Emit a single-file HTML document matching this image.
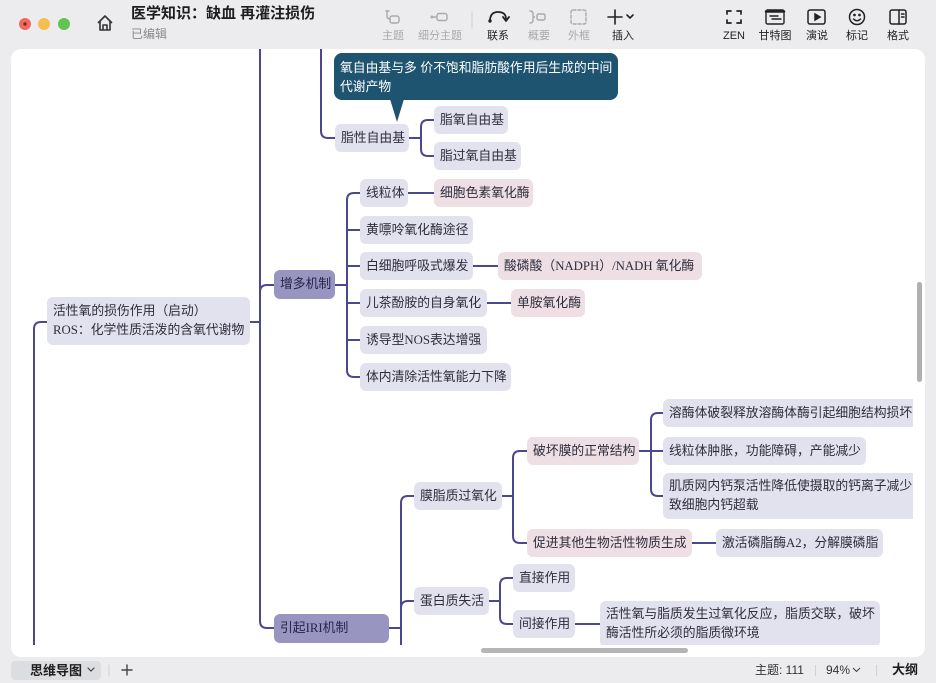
<!DOCTYPE html>
<html><head><meta charset="utf-8">
<style>
*{margin:0;padding:0;box-sizing:border-box}
body{width:936px;height:683px;background:#ececee;position:relative;overflow:hidden;font-family:"Liberation Sans","Noto Sans CJK SC",sans-serif;color:#222}
.canvas{position:absolute;left:11px;top:49px;width:914px;height:608px;background:#fff;border-radius:10px}
.clip{position:absolute;left:11px;top:49px;width:902px;height:596px;overflow:hidden}
.inner{position:absolute;left:-11px;top:-49px;width:936px;height:683px}
.n{position:absolute;border-radius:6px;background:#e2e1ee;color:#2e2d3d;font-family:"Liberation Serif","Noto Sans CJK SC",sans-serif;font-size:12.8px;line-height:28px;height:28px;padding-left:6px;white-space:nowrap;overflow:hidden}
.p{background:#eddfe3}
.m{background:#9896c1;color:#26244a;height:29px;line-height:29px}
.two{line-height:19px;padding-top:4px;height:46px}
.lbl{position:absolute;top:30px;width:60px;text-align:center;font-size:11px;line-height:12px;color:#222}
.dis{color:#a9a9ad}
.ic{position:absolute;top:8px;width:20px;height:18px}
</style></head><body>

<!-- title bar -->
<svg style="position:absolute;left:0;top:0" width="120" height="46">
<circle cx="25" cy="24" r="6" fill="#ec6a5e"/><circle cx="25" cy="24" r="1.6" fill="#8c1c14"/>
<circle cx="44" cy="24" r="6" fill="#f4bf4f"/>
<circle cx="64" cy="24" r="6" fill="#61c554"/>
<path d="M98,23 L105,16 L112,23 M100,21 V30 H110 V21 M103,30 V25 H107 V30" fill="none" stroke="#333" stroke-width="1.6" stroke-linejoin="round"/>
</svg>
<div style="position:absolute;left:131px;top:4px;font-size:15px;font-weight:bold;line-height:20px;color:#1e1e1e;white-space:nowrap">医学知识：缺血 再灌注损伤</div>
<div style="position:absolute;left:131px;top:26px;font-size:12px;line-height:16px;color:#8a8a8e">已编辑</div>

<!-- toolbar icons -->
<svg style="position:absolute;left:0;top:0" width="936" height="30" fill="none" stroke-linecap="round">
<!-- 主题 -->
<g stroke="#a9a9ad" stroke-width="1.4"><path d="M387,11 V16 Q387,19 390,19"/><rect x="390" y="16" width="9" height="7" rx="2"/><path d="M386,11 H389"/></g>
<!-- 细分主题 -->
<g stroke="#a9a9ad" stroke-width="1.4"><circle cx="432" cy="17" r="0.8"/><path d="M434,17 H436"/><rect x="437" y="13.5" width="10" height="7" rx="2"/></g>
<line x1="472" y1="12" x2="472" y2="28" stroke="#d0d0d4" stroke-width="1"/>
<!-- 联系 -->
<g stroke="#222" stroke-width="1.8"><path d="M490,21 Q490,12 498,12 Q506,12 506,19"/><path d="M503,17 L506,21 L509,17" stroke-linejoin="round"/><circle cx="490" cy="21" r="0.8" fill="#222"/></g>
<!-- 概要 -->
<g stroke="#a9a9ad" stroke-width="1.4"><path d="M530,11 Q533,11 533,14 V16 Q533,17 535,17 Q533,17 533,18 V20 Q533,23 530,23"/><rect x="537" y="14" width="8" height="6" rx="1.5"/></g>
<!-- 外框 -->
<rect x="571" y="10" width="15" height="14" rx="2" stroke="#a9a9ad" stroke-width="1.4" stroke-dasharray="3 2"/>
<!-- 插入 -->
<g stroke="#222" stroke-width="1.6"><path d="M615,10 V24 M608,17 H622"/><path d="M627,15 L630,18 L633,15"/></g>
<!-- ZEN -->
<g stroke="#222" stroke-width="1.7"><path d="M727,14 V11 H731 M737,11 H741 V14 M741,20 V23 H737 M731,23 H727 V20"/></g>
<!-- 甘特图 -->
<g stroke="#222" stroke-width="1.4"><rect x="766" y="10" width="18" height="14" rx="1.5"/><path d="M766,11.5 H784" stroke-width="2.5"/><path d="M770,16 H778 M772,19 H781"/></g>
<!-- 演说 -->
<g stroke="#222" stroke-width="1.5"><rect x="808" y="10" width="17" height="14" rx="2"/><path d="M815,14 L820,17 L815,20 Z" fill="#222"/></g>
<!-- 标记 -->
<g stroke="#222" stroke-width="1.5"><circle cx="857" cy="17" r="7.5"/><path d="M853.5,19 Q857,22.5 860.5,19"/><circle cx="854.5" cy="15" r="0.6" fill="#222"/><circle cx="859.5" cy="15" r="0.6" fill="#222"/></g>
<!-- 格式 -->
<g stroke="#222" stroke-width="1.5"><rect x="890" y="10" width="16" height="14" rx="2"/><path d="M899,10 V24 M901.5,14 H904 M901.5,17 H904"/></g>
</svg>
<div class="lbl dis" style="left:363px">主题</div>
<div class="lbl dis" style="left:410px">细分主题</div>
<div class="lbl" style="left:468px">联系</div>
<div class="lbl dis" style="left:509px">概要</div>
<div class="lbl dis" style="left:549px">外框</div>
<div class="lbl" style="left:593px">插入</div>
<div class="lbl" style="left:704px">ZEN</div>
<div class="lbl" style="left:745px">甘特图</div>
<div class="lbl" style="left:787px">演说</div>
<div class="lbl" style="left:827px">标记</div>
<div class="lbl" style="left:868px">格式</div>

<div class="canvas"></div>

<div class="clip"><div class="inner">
<svg style="position:absolute;left:0;top:0" width="936" height="683" fill="none" stroke="#4b4791" stroke-width="2" stroke-linecap="round" stroke-linejoin="round">
<path d="M47,322 H41 Q34,322 34,329 V660"/>
<path d="M250,322 H260"/>
<path d="M260,40 V621 Q260,628 267,628 H274"/>
<path d="M260,292 Q260,285 267,285 H274"/>
<path d="M321,40 V131 Q321,138 328,138 H335"/>
<path d="M409,138 H421"/>
<path d="M434,120 H428 Q421,120 421,127 V149 Q421,156 428,156 H434"/>
<path d="M335,285 H347"/>
<path d="M360,193 H354 Q347,193 347,200 V370 Q347,377 354,377 H360"/>
<path d="M347,230 H360 M347,266 H360 M347,303 H360 M347,340 H360"/>
<path d="M408,193 H434 M473,266 H498 M487,303 H511"/>
<path d="M389,628 H401"/>
<path d="M414,496 H408 Q401,496 401,503 V660"/>
<path d="M401,608 Q401,601 408,601 H414"/>
<path d="M502,496 H513"/>
<path d="M527,451 H520 Q513,451 513,458 V536 Q513,543 520,543 H527"/>
<path d="M639,451 H663"/>
<path d="M663,413 H658 Q651,413 651,420 V489 Q651,496 658,496 H663"/>
<path d="M692,543 H716"/>
<path d="M489,601 H500"/>
<path d="M513,578 H507 Q500,578 500,585 V617 Q500,624 507,624 H513"/>
<path d="M575,624 H600"/>
</svg>

<!-- tooltip -->
<div style="position:absolute;left:334px;top:53px;width:284px;height:47px;background:#1f5470;border-radius:8px;color:#fff;font-size:12.8px;line-height:19px;padding:5px 6px;font-family:'Liberation Sans','Noto Sans CJK SC',sans-serif;white-space:nowrap">氧自由基与多 价不饱和脂肪酸作用后生成的中间<br>代谢产物</div>
<svg style="position:absolute;left:0;top:0" width="936" height="683"><polygon points="390,99 404,99 397,122" fill="#1f5470"/></svg>

<div class="n two" style="left:47px;top:297px;width:203px;height:48px;padding-top:5px">活性氧的损伤作用（启动）<br>ROS：化学性质活泼的含氧代谢物</div>
<div class="n m" style="left:274px;top:270px;width:61px">增多机制</div>
<div class="n m" style="left:274px;top:614px;width:115px">引起IRI机制</div>

<div class="n" style="left:335px;top:124px;width:74px">脂性自由基</div>
<div class="n" style="left:434px;top:106px;width:74px">脂氧自由基</div>
<div class="n" style="left:434px;top:142px;width:87px">脂过氧自由基</div>

<div class="n" style="left:360px;top:179px;width:48px">线粒体</div>
<div class="n p" style="left:434px;top:179px;width:99px">细胞色素氧化酶</div>
<div class="n" style="left:360px;top:216px;width:113px">黄嘌呤氧化酶途径</div>
<div class="n" style="left:360px;top:252px;width:113px">白细胞呼吸式爆发</div>
<div class="n p" style="left:498px;top:252px;width:204px">酸磷酸（NADPH）/NADH 氧化酶</div>
<div class="n" style="left:360px;top:289px;width:127px">儿茶酚胺的自身氧化</div>
<div class="n p" style="left:511px;top:289px;width:74px">单胺氧化酶</div>
<div class="n" style="left:360px;top:326px;width:127px">诱导型NOS表达增强</div>
<div class="n" style="left:360px;top:363px;width:151px">体内清除活性氧能力下降</div>

<div class="n" style="left:414px;top:482px;width:88px">膜脂质过氧化</div>
<div class="n p" style="left:527px;top:437px;width:112px">破坏膜的正常结构</div>
<div class="n" style="left:663px;top:399px;width:262px">溶酶体破裂释放溶酶体酶引起细胞结构损坏</div>
<div class="n" style="left:663px;top:437px;width:203px">线粒体肿胀，功能障碍，产能减少</div>
<div class="n two" style="left:663px;top:473px;width:262px">肌质网内钙泵活性降低使摄取的钙离子减少<br>致细胞内钙超载</div>
<div class="n p" style="left:527px;top:529px;width:165px">促进其他生物活性物质生成</div>
<div class="n" style="left:716px;top:529px;width:167px">激活磷脂酶A2，分解膜磷脂</div>

<div class="n" style="left:414px;top:587px;width:75px">蛋白质失活</div>
<div class="n" style="left:513px;top:564px;width:62px">直接作用</div>
<div class="n" style="left:513px;top:610px;width:62px">间接作用</div>
<div class="n two" style="left:600px;top:601px;width:280px">活性氧与脂质发生过氧化反应，脂质交联，破坏<br>酶活性所必须的脂质微环境</div>
</div></div>

<!-- scrollbars -->
<div style="position:absolute;left:481px;top:648px;width:207px;height:5px;border-radius:3px;background:#b5b5b7"></div>
<div style="position:absolute;left:917px;top:282px;width:5px;height:100px;border-radius:3px;background:#b0b0b2"></div>

<!-- bottom bar -->
<div style="position:absolute;left:11px;top:661px;width:90px;height:19px;border-radius:4px;background:#dcdde0"></div>
<div style="position:absolute;left:30px;top:662px;font-size:13px;font-weight:bold;line-height:17px;color:#1e1e1e">思维导图</div>
<svg style="position:absolute;left:0;top:655px" width="140" height="28" fill="none" stroke="#444" stroke-linecap="round">
<path d="M88,13 L91,16 L94,13" stroke-width="1.2"/>
<path d="M109,10 V21" stroke="#d0d0d4" stroke-width="1"/>
<path d="M127,10 V20 M122,15 H132" stroke-width="1.4"/>
</svg>
<div style="position:absolute;left:755px;top:662px;font-size:12px;line-height:17px;color:#333;white-space:nowrap">主题: 111</div>
<div style="position:absolute;left:815px;top:665px;width:1px;height:11px;background:#d0d0d4"></div>
<div style="position:absolute;left:826px;top:662px;font-size:12px;line-height:17px;color:#333;white-space:nowrap">94%</div>
<svg style="position:absolute;left:852px;top:666px" width="10" height="8" fill="none" stroke="#444" stroke-width="1.1"><path d="M1,2 L4.5,5.5 L8,2"/></svg>
<div style="position:absolute;left:876px;top:665px;width:1px;height:11px;background:#d0d0d4"></div>
<div style="position:absolute;left:892px;top:661px;font-size:13px;font-weight:bold;line-height:18px;color:#1e1e1e">大纲</div>
</body></html>
